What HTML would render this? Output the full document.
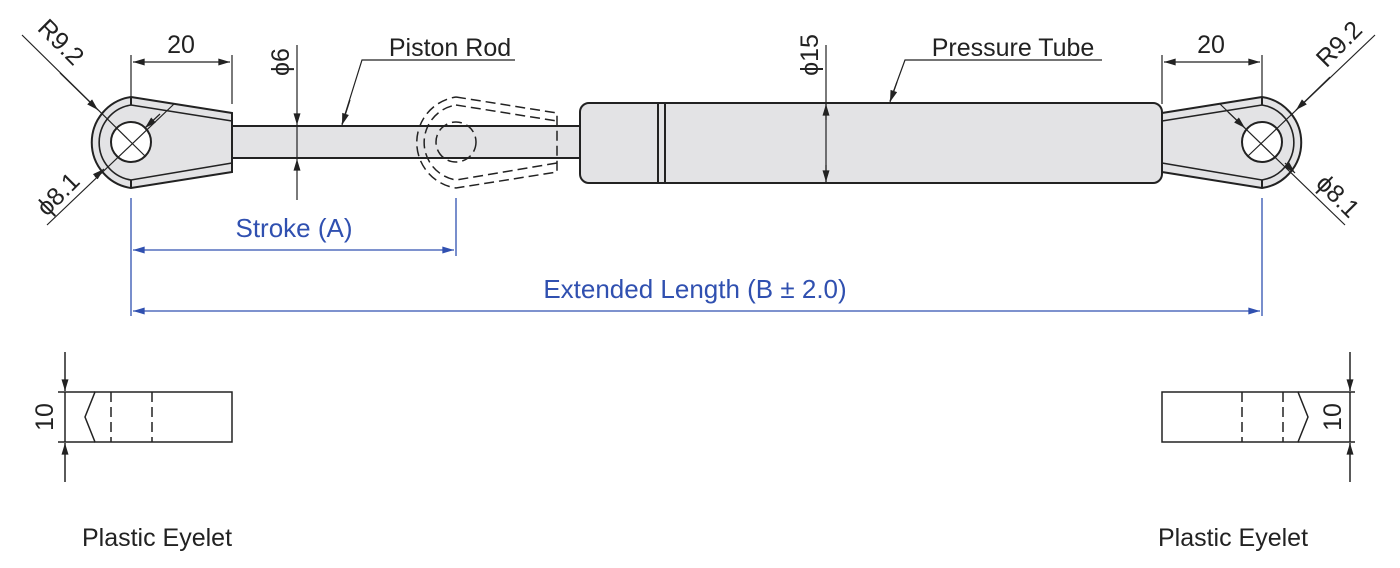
<!DOCTYPE html>
<html><head><style>body{margin:0;background:#fff}svg{display:block}</style></head><body>
<svg width="1400" height="568" viewBox="0 0 1400 568" xmlns="http://www.w3.org/2000/svg" font-family="Liberation Sans, sans-serif">
<defs>
<marker id="a" viewBox="0 0 10 6" refX="10" refY="3" markerWidth="14" markerHeight="7" orient="auto-start-reverse" markerUnits="userSpaceOnUse"><path d="M0,0L10,3L0,6z" fill="#222"/></marker>
<marker id="b" viewBox="0 0 10 6" refX="10" refY="3" markerWidth="14" markerHeight="7" orient="auto-start-reverse" markerUnits="userSpaceOnUse"><path d="M0,0L10,3L0,6z" fill="#3050b0"/></marker>
</defs>
<g stroke="#222" stroke-width="2" fill="#e3e3e5">
<rect x="232" y="126" width="350" height="32"/>
<rect x="580" y="103" width="582" height="80" rx="9"/>
<line x1="658" y1="103" x2="658" y2="183"/><line x1="665" y1="103" x2="665" y2="183"/>
<path d="M131,97 L232,113 L232,172 L131,188 A46,46 0 0 1 131,97Z"/>
<path d="M131,105 L232,121 M232,163 L131,180 A38,38 0 0 1 131,105" fill="none" stroke-width="1.6"/>
<line x1="131" y1="97" x2="131" y2="105"/><line x1="131" y1="180" x2="131" y2="188"/>
<circle cx="131" cy="142" r="20" fill="#fff"/>
<path d="M1262,97 L1162,113 L1162,172 L1262,188 A46,46 0 0 0 1262,97Z"/>
<path d="M1262,105 L1162,121 M1162,163 L1262,180 A38,38 0 0 0 1262,105" fill="none" stroke-width="1.6"/>
<line x1="1262" y1="97" x2="1262" y2="105"/><line x1="1262" y1="180" x2="1262" y2="188"/>
<circle cx="1262" cy="142" r="20" fill="#fff"/>
</g>
<g stroke="#222" stroke-width="1.5" fill="none" stroke-dasharray="10,5">
<path d="M456,97 L557,113 L557,172 L456,188 A46,46 0 0 1 456,97"/>
<path d="M456,105 L557,121 M557,163 L456,180 A38,38 0 0 1 456,105"/>
<circle cx="456" cy="142" r="20"/>
</g>
<g stroke="#222" stroke-width="1.2" fill="none">
<line x1="131" y1="55" x2="131" y2="102"/><line x1="232" y1="55" x2="232" y2="104"/>
<line x1="133" y1="62" x2="230" y2="62" marker-start="url(#a)" marker-end="url(#a)"/>
<line x1="1162" y1="55" x2="1162" y2="104"/><line x1="1262" y1="55" x2="1262" y2="102"/>
<line x1="1164" y1="62" x2="1260" y2="62" marker-start="url(#a)" marker-end="url(#a)"/>
<line x1="297" y1="45" x2="297" y2="125" marker-end="url(#a)"/>
<line x1="297" y1="200" x2="297" y2="159" marker-end="url(#a)"/>
<line x1="297" y1="125" x2="297" y2="159"/>
<line x1="826" y1="45" x2="826" y2="182"/>
<line x1="826" y1="120" x2="826" y2="104" marker-end="url(#a)"/>
<line x1="826" y1="165" x2="826" y2="182" marker-end="url(#a)"/>
<polyline points="515,60 362,60 342,124" />
<line x1="350" y1="100" x2="342" y2="125" marker-end="url(#a)"/>
<polyline points="1102,60 905,60 890,101"/>
<line x1="897" y1="82" x2="890" y2="102" marker-end="url(#a)"/>
<line x1="22" y1="35" x2="145" y2="156"/>
<line x1="60" y1="73" x2="98" y2="110" marker-end="url(#a)"/>
<line x1="47" y1="225" x2="174" y2="104"/>
<line x1="145" y1="128" x2="160" y2="114" marker-start="url(#a)"/>
<line x1="95" y1="177" x2="104" y2="169" marker-end="url(#a)"/>
<line x1="1375" y1="35" x2="1248" y2="156"/>
<line x1="1330" y1="77" x2="1296" y2="110" marker-end="url(#a)"/>
<line x1="1345" y1="225" x2="1220" y2="104"/>
<line x1="1228" y1="112" x2="1245" y2="128" marker-end="url(#a)"/>
<line x1="1285" y1="163" x2="1295" y2="173" marker-end="url(#a)"/>
</g>
<g font-size="25" fill="#222">
<text x="181" y="53" text-anchor="middle">20</text>
<text x="1211" y="53" text-anchor="middle">20</text>
<text x="450" y="56" text-anchor="middle">Piston Rod</text>
<text x="1013" y="56" text-anchor="middle">Pressure Tube</text>
<text transform="translate(289,62) rotate(-90)" text-anchor="middle">ϕ6</text>
<text transform="translate(818,55) rotate(-90)" text-anchor="middle">ϕ15</text>
<text transform="translate(55,48) rotate(45)" text-anchor="middle">R9.2</text>
<text transform="translate(64,200) rotate(-45)" text-anchor="middle">ϕ8.1</text>
<text transform="translate(1345,50) rotate(-45)" text-anchor="middle">R9.2</text>
<text transform="translate(1332,202) rotate(45)" text-anchor="middle">ϕ8.1</text>
<text x="157" y="546" text-anchor="middle">Plastic Eyelet</text>
<text x="1233" y="546" text-anchor="middle">Plastic Eyelet</text>
<text transform="translate(53,417) rotate(-90)" text-anchor="middle">10</text>
<text transform="translate(1341,417) rotate(-90)" text-anchor="middle">10</text>
</g>
<g stroke="#3050b0" stroke-width="1.3" fill="none">
<line x1="131" y1="198" x2="131" y2="316"/><line x1="456" y1="198" x2="456" y2="256"/><line x1="1262" y1="198" x2="1262" y2="316"/>
<line x1="133" y1="250" x2="454" y2="250" marker-start="url(#b)" marker-end="url(#b)"/>
<line x1="133" y1="311" x2="1260" y2="311" marker-start="url(#b)" marker-end="url(#b)"/>
</g>
<g font-size="26" fill="#3050b0" text-anchor="middle">
<text x="294" y="237">Stroke (A)</text>
<text x="695" y="298">Extended Length (B ± 2.0)</text>
</g>
<g stroke="#222" stroke-width="1.5" fill="none">
<path d="M95,392 L232,392 L232,442 L95,442 L85,417Z"/>
<path d="M111,392V442M152,392V442" stroke-dasharray="10,5"/>
<path d="M1298,392 L1162,392 L1162,442 L1298,442 L1308,417Z"/>
<path d="M1242,392V442M1283,392V442" stroke-dasharray="10,5"/>
<line x1="58" y1="392" x2="95" y2="392"/><line x1="58" y1="442" x2="95" y2="442"/>
<line x1="65" y1="352" x2="65" y2="391" marker-end="url(#a)"/>
<line x1="65" y1="482" x2="65" y2="443" marker-end="url(#a)"/>
<line x1="65" y1="392" x2="65" y2="442"/>
<line x1="1298" y1="392" x2="1355" y2="392"/><line x1="1298" y1="442" x2="1355" y2="442"/>
<line x1="1350" y1="352" x2="1350" y2="391" marker-end="url(#a)"/>
<line x1="1350" y1="482" x2="1350" y2="443" marker-end="url(#a)"/>
<line x1="1350" y1="392" x2="1350" y2="442"/>
</g>
</svg>
</body></html>
